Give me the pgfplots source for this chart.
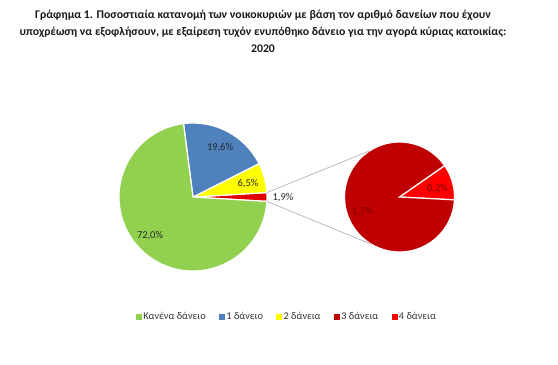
\documentclass[border=0pt]{standalone}
\usepackage{pgfplots}
\pgfplotsset{compat=1.18}
\usetikzlibrary{calc}
\usepackage{fontspec}
\setmainfont{Carlito}
\definecolor{cgreen}{HTML}{92D050}
\definecolor{cblue}{HTML}{4F81BD}
\definecolor{cyellow}{HTML}{FFFF00}
\definecolor{cdred}{HTML}{C00000}
\definecolor{cred}{HTML}{FF0000}
\definecolor{cmred}{HTML}{E00000}
% data (percent)
\def\vNone{72.0}\def\vOne{19.6}\def\vTwo{6.5}\def\vOther{1.9}
\def\vThree{1.7}\def\vFour{0.2}
\begin{document}
\begin{tikzpicture}
\begin{axis}[x=1bp,y=1bp,xmin=0,xmax=558,ymin=0,ymax=364,hide axis,clip=false,
  legend columns=5,
  legend style={at={(axis cs:287,47)},anchor=center,draw=none,fill=none,
    font=\fontsize{10.4}{12}\selectfont,text=black!80,
    /tikz/every even column/.append style={column sep=11.5bp},
    /tikz/every odd column/.append style={column sep=0bp}},
  legend image code/.code={\fill[#1] (0bp,-2.4bp) rectangle (4.8bp,2.4bp);},
]
\path (axis cs:0,0) -- (axis cs:558,364);
\addlegendimage{cgreen}\addlegendentry{Κανένα δάνειο}
\addlegendimage{cblue}\addlegendentry{1 δάνειο}
\addlegendimage{cyellow}\addlegendentry{2 δάνεια}
\addlegendimage{cdred}\addlegendentry{3 δάνεια}
\addlegendimage{cred}\addlegendentry{4 δάνεια}
% main pie
\pgfmathsetmacro{\aA}{-\vOther*1.8}
\pgfmathsetmacro{\aB}{\aA+\vOther*3.6}
\pgfmathsetmacro{\aC}{\aB+\vTwo*3.6}
\pgfmathsetmacro{\aD}{\aC+\vOne*3.6}
\pgfmathsetmacro{\aE}{\aA+360}
\def\cx{193}\def\cy{167}
\fill[cmred,draw=white,line width=1.2bp] (axis cs:\cx,\cy) -- ++(\aA:74bp) arc[start angle=\aA,end angle=\aB,radius=74bp] -- cycle;
\fill[cyellow,draw=white,line width=1.2bp] (axis cs:\cx,\cy) -- ++(\aB:74bp) arc[start angle=\aB,end angle=\aC,radius=74bp] -- cycle;
\fill[cblue,draw=white,line width=1.2bp] (axis cs:\cx,\cy) -- ++(\aC:74bp) arc[start angle=\aC,end angle=\aD,radius=74bp] -- cycle;
\fill[cgreen,draw=white,line width=1.2bp] (axis cs:\cx,\cy) -- ++(\aD:74bp) arc[start angle=\aD,end angle=\aE,radius=74bp] -- cycle;
% secondary pie
\pgfmathsetmacro{\bA}{-3}
\pgfmathsetmacro{\bB}{\bA+\vFour/\vOther*360}
\pgfmathsetmacro{\bC}{\bA+360}
\def\sx{399.5}\def\sy{167}
\fill[cred,draw=white,line width=1.2bp] (axis cs:\sx,\sy) -- ++(\bA:55bp) arc[start angle=\bA,end angle=\bB,radius=55bp] -- cycle;
\fill[cdred,draw=white,line width=1.2bp] (axis cs:\sx,\sy) -- ++(\bB:55bp) arc[start angle=\bB,end angle=\bC,radius=55bp] -- cycle;
% connector lines
\draw[gray!60,line width=0.7bp] (axis cs:\cx,\cy) ++(\aB:74bp) -- ($(axis cs:\sx,\sy)+(123:55bp)$);
\draw[gray!60,line width=0.7bp] (axis cs:\cx,\cy) ++(\aA:74bp) -- ($(axis cs:\sx,\sy)+(-121:55bp)$);
% labels
\begin{scope}[every node/.style={font=\fontsize{10.5}{12}\selectfont,inner sep=0pt}]
\node[text=black!85] at (axis cs:150,128.5) {72,0\%};
\node[text=black!85] at (axis cs:220,216.5) {19,6\%};
\node[text=black!85] at (axis cs:248,180) {6,5\%};
\node[text=black!85] at (axis cs:283,166.5) {1,9\%};
\node[text=red!50!black] at (axis cs:362.5,152.5) {1,7\%};
\node[text=red!50!black] at (axis cs:437.5,175) {0,2\%};
\end{scope}
% title
\node[font=\bfseries\fontsize{11.8}{17}\selectfont,align=center,text=black!90] at (axis cs:263,332.5)
 {Γράφημα 1. Ποσοστιαία κατανομή των νοικοκυριών με βάση τον αριθμό δανείων που έχουν\\
 υποχρέωση να εξοφλήσουν, με εξαίρεση τυχόν ενυπόθηκο δάνειο για την αγορά κύριας κατοικίας:\\
 2020};
\end{axis}
\end{tikzpicture}
\end{document}
